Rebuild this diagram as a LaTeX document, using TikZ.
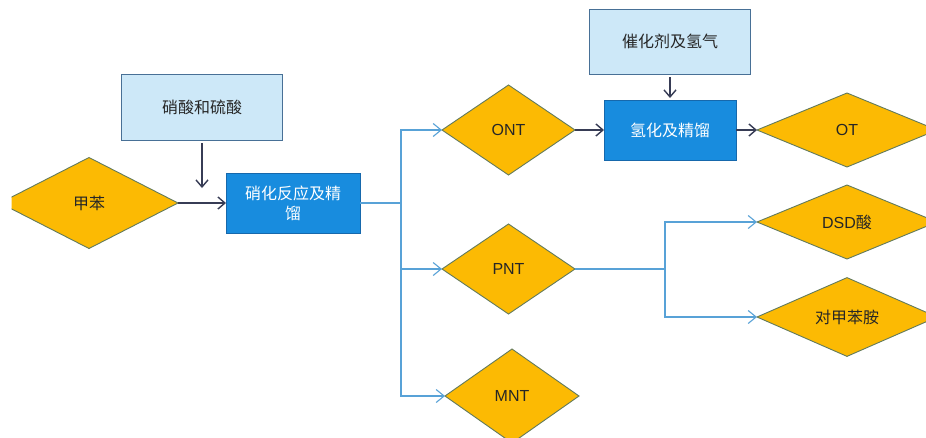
\documentclass[tikz,border=0pt]{standalone}
\usepackage{fontspec}
\setmainfont{Liberation Sans}
\newfontfamily\cjk{Noto Sans CJK SC}
\usetikzlibrary{shapes.geometric,arrows.meta}

\definecolor{amber}{RGB}{252,186,3}
\definecolor{amberline}{RGB}{98,122,92}
\definecolor{feedfill}{RGB}{205,232,248}
\definecolor{feedline}{RGB}{72,112,150}
\definecolor{procfill}{RGB}{24,140,222}
\definecolor{procline}{RGB}{22,104,172}
\definecolor{flowblue}{RGB}{88,162,215}
\definecolor{darkline}{RGB}{55,60,85}

\tikzset{
  txt/.style={font=\fontsize{16}{20}\selectfont},
  cjktxt/.style={font=\cjk\fontsize{16}{20}\selectfont},
  prod/.style={diamond, draw=amberline, fill=amber, line width=0.9pt,
    inner sep=0pt, outer sep=0pt, text=black!85},
  feed/.style={rectangle, draw=feedline, fill=feedfill, line width=0.9pt,
    inner sep=0pt, outer sep=0pt, text=black!85},
  proc/.style={rectangle, draw=procline, fill=procfill, line width=0.9pt,
    inner sep=0pt, outer sep=0pt, text=white, align=center},
  flow/.style={draw=flowblue, line width=1.2pt,
    -{Straight Barb[length=8pt,width=13pt,line width=1.1pt]}},
  flowline/.style={draw=flowblue, line width=1.2pt},
  feedarrow/.style={draw=darkline, line width=1.4pt,
    -{Straight Barb[length=7pt,width=12pt,line width=1.4pt]}}
}

\begin{document}
\begin{tikzpicture}[x=1pt,y=-1pt]
\useasboundingbox (0,0) rectangle (926,437);
\fill[white] (0,0) rectangle (926,437);
\clip (11.5,0) rectangle (926,437);

% nitration stage
\node[prod, cjktxt, minimum width=178pt, minimum height=91pt] (tol) at (89,203) {甲苯};
\node[feed, cjktxt, minimum width=161pt, minimum height=66pt] (acid) at (202,107) {硝酸和硫酸};
\node[proc, cjktxt, minimum width=134pt, minimum height=60pt] (nitr) at (293,203) {硝化反应及精\\馏};

% nitrotoluene isomers
\node[prod, txt, minimum width=133pt, minimum height=90pt] (ont) at (508.5,130) {ONT};
\node[prod, txt, minimum width=133pt, minimum height=90pt] (pnt) at (508.5,269) {PNT};
\node[prod, txt, minimum width=134pt, minimum height=94pt] (mnt) at (512,396) {MNT};

% hydrogenation stage
\node[feed, cjktxt, minimum width=161pt, minimum height=65pt] (cat) at (670,41.5) {催化剂及氢气};
\node[proc, cjktxt, minimum width=132pt, minimum height=60pt] (hydr) at (670,130) {氢化及精馏};

% end products
\node[prod, txt, minimum width=180pt, minimum height=74pt] (ot) at (847,130) {OT};
\node[prod, txt, minimum width=180pt, minimum height=74pt] (dsd) at (847,222) {DSD{\cjk 酸}};
\node[prod, cjktxt, minimum width=180pt, minimum height=75pt] (ptol) at (847,317) {对甲苯胺};

% junctions of the branching lines
\coordinate (split1) at (401,203);
\coordinate (split2) at (665,269);
\coordinate (mix) at (202,188);

% dark feed arrows
\draw[feedarrow, shorten <=3pt] (acid.south) -- (mix);
\draw[feedarrow] (tol.east) -- (nitr.west);
\draw[feedarrow, shorten <=3pt, shorten >=2pt] (cat.south) -- (hydr.north);
\draw[feedarrow] (ont.east) -- (hydr.west);
\draw[feedarrow] (hydr.east) -- (ot.west);

% blue product streams
\draw[flowline] (nitr.east) -- (split1);
\draw[flow] (split1) |- (ont.west);
\draw[flow] (split1) |- (pnt.west);
\draw[flow] (split1) |- (mnt.west);
\draw[flowline] (pnt.east) -- (split2);
\draw[flow] (split2) |- (dsd.west);
\draw[flow] (split2) |- (ptol.west);
\end{tikzpicture}
\end{document}
